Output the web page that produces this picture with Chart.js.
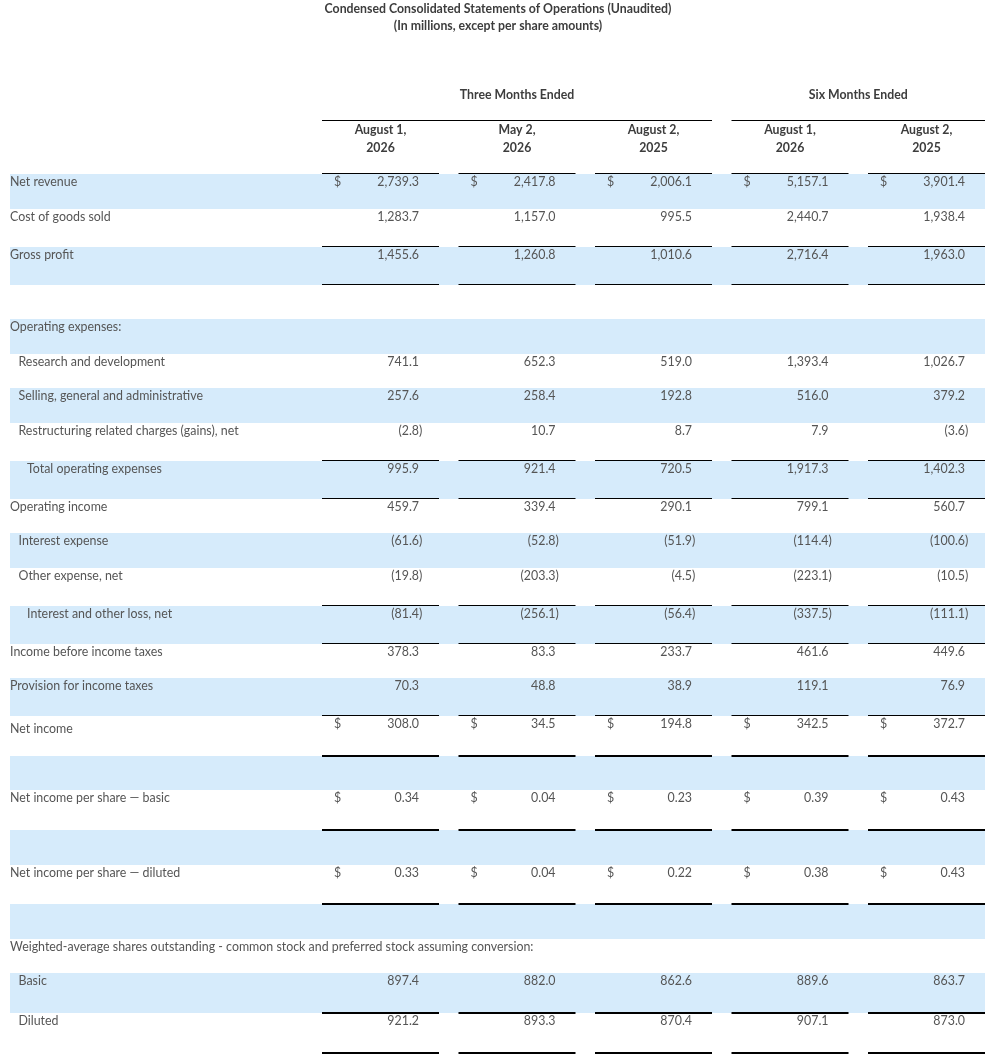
<!DOCTYPE html>
<html><head><meta charset="utf-8">
<script src="https://cdn.jsdelivr.net/npm/chart.js@4.4.0/dist/chart.umd.min.js"></script>
<style>html,body{margin:0;padding:0;background:#fff;} #wrap{width:996px;height:1060px;position:relative;}</style>
</head><body><div id="wrap"><canvas id="c"></canvas></div>
<script>
// ---------- DATA ----------
const titleLines = ["Condensed Consolidated Statements of Operations (Unaudited)", "(In millions, except per share amounts)"];
const periodGroups = ["Three Months Ended", "Six Months Ended"];
const periodSpans = [[0, 2], [3, 4]];
const headerLine1 = ["August 1,", "May 2,", "August 2,", "August 1,", "August 2,"];
const headerLine2 = ["2026", "2026", "2025", "2026", "2025"];
const rowLabels = [
  "Net revenue",
  "Cost of goods sold",
  "Gross profit",
  "",
  "Operating expenses:",
  "Research and development",
  "Selling, general and administrative",
  "Restructuring related charges (gains), net",
  "Total operating expenses",
  "Operating income",
  "Interest expense",
  "Other expense, net",
  "Interest and other loss, net",
  "Income before income taxes",
  "Provision for income taxes",
  "Net income",
  "",
  "Net income per share \u2014 basic",
  "",
  "Net income per share \u2014 diluted",
  "",
  "Weighted-average shares outstanding - common stock and preferred stock assuming conversion:",
  "Basic",
  "Diluted"
];
const threeMonthsAug1_2026 = [2739.3, 1283.7, 1455.6, null, null, 741.1, 257.6, -2.8, 995.9, 459.7, -61.6, -19.8, -81.4, 378.3, 70.3, 308.0, null, 0.34, null, 0.33, null, null, 897.4, 921.2];
const threeMonthsMay2_2026  = [2417.8, 1157.0, 1260.8, null, null, 652.3, 258.4, 10.7, 921.4, 339.4, -52.8, -203.3, -256.1, 83.3, 48.8, 34.5, null, 0.04, null, 0.04, null, null, 882.0, 893.3];
const threeMonthsAug2_2025 = [2006.1, 995.5, 1010.6, null, null, 519.0, 192.8, 8.7, 720.5, 290.1, -51.9, -4.5, -56.4, 233.7, 38.9, 194.8, null, 0.23, null, 0.22, null, null, 862.6, 870.4];
const sixMonthsAug1_2026   = [5157.1, 2440.7, 2716.4, null, null, 1393.4, 516.0, 7.9, 1917.3, 799.1, -114.4, -223.1, -337.5, 461.6, 119.1, 342.5, null, 0.39, null, 0.38, null, null, 889.6, 907.1];
const sixMonthsAug2_2025   = [3901.4, 1938.4, 1963.0, null, null, 1026.7, 379.2, -3.6, 1402.3, 560.7, -100.6, -10.5, -111.1, 449.6, 76.9, 372.7, null, 0.43, null, 0.43, null, null, 863.7, 873.0];
const columnValues = [threeMonthsAug1_2026, threeMonthsMay2_2026, threeMonthsAug2_2025, sixMonthsAug1_2026, sixMonthsAug2_2025];

// ---------- STYLE / LAYOUT ----------
const rowIndent = [0,0,0,0,0,1,1,1,2,0,1,1,2,0,0,0,0,0,0,0,0,0,1,1];
const rowRule = ['','thin','thin','','','','','thin','thin','','','thin','thin','','thin','thick','','thick','','thick','','','thick','thick'];
const dollarRows = [0, 15, 17, 19];
const perShareRows = [17, 19];
const labelMiddleRows = [15];
const BASE_H = 34.5, THIN_EXTRA = 3.5, THICK_EXTRA = 5.3;
const rowHeights = rowRule.map(r => BASE_H + (r === 'thin' ? THIN_EXTRA : r === 'thick' ? THICK_EXTRA : 0));
const rowTops = []; let acc = 0;
rowHeights.forEach(h => { rowTops.push(acc); acc += h; });
const totalH = acc;

const FONT = 'Lato, "Open Sans", sans-serif';
const BODY_SIZE = '12.4px ', HEAD_SIZE = 'bold 12.3px ';
const TXT = '#555555', HEAD = '#3d3d3d', BAND = '#d6ebfb';
const COL_HALF = 58.5, CELL_PAD_R = 20, CELL_PAD_L = 12;

function fmt(v, dec) {
  return Math.abs(v).toLocaleString('en-US', {minimumFractionDigits: dec, maximumFractionDigits: dec});
}

const datasets = columnValues.map((vals, c) => ({
  label: headerLine1[c] + ' ' + headerLine2[c],
  data: vals.map((v, i) => v == null ? null : {x: c, y: rowTops[i], v: v, r: i}).filter(Boolean),
  pointRadius: 0, pointHoverRadius: 0, showLine: false
}));

const tablePlugin = {
  id: 'table',
  beforeDatasetsDraw(chart) {
    const ctx = chart.ctx, xs = chart.scales.x, ys = chart.scales.y;
    const W = chart.width;
    const bandLeft = 10, bandRight = xs.getPixelForValue(4) + COL_HALF;
    ctx.save();
    // bands
    ctx.fillStyle = BAND;
    rowTops.forEach((t, i) => {
      if (i % 2 === 0) {
        const y0 = ys.getPixelForValue(t), y1 = ys.getPixelForValue(t + rowHeights[i]);
        ctx.fillRect(bandLeft, Math.round(y0), bandRight - bandLeft, Math.round(y1) - Math.round(y0));
      }
    });
    // header texts
    ctx.fillStyle = HEAD;
    ctx.font = HEAD_SIZE + FONT;
    ctx.textAlign = 'center';
    ctx.textBaseline = 'alphabetic';
    ctx.fillText(titleLines[0], W / 2, 12.5);
    ctx.fillText(titleLines[1], W / 2, 30);
    periodGroups.forEach((g, k) => {
      const a = periodSpans[k][0], b = periodSpans[k][1];
      const cx = (xs.getPixelForValue(a) + xs.getPixelForValue(b)) / 2;
      ctx.fillText(g, cx, 99);
    });
    headerLine1.forEach((h, c) => {
      const cx = xs.getPixelForValue(c);
      ctx.fillText(h, cx, 133.5);
      ctx.fillText(headerLine2[c], cx, 151.5);
    });
    // rules
    ctx.fillStyle = '#000';
    periodSpans.forEach(([a, b]) => {
      const l = xs.getPixelForValue(a) - COL_HALF, r = xs.getPixelForValue(b) + COL_HALF;
      ctx.fillRect(l, 120, r - l, 1);
    });
    const drawRule = (yv, thick) => {
      const y = Math.round(ys.getPixelForValue(yv));
      for (let c = 0; c < 5; c++) {
        const cx = xs.getPixelForValue(c);
        ctx.fillRect(cx - COL_HALF, y - 1, COL_HALF * 2, thick ? 2 : 1);
      }
    };
    drawRule(0, false);
    rowRule.forEach((r, i) => { if (r) drawRule(rowTops[i] + rowHeights[i], r === 'thick'); });
    // row labels
    ctx.fillStyle = TXT;
    ctx.font = BODY_SIZE + FONT;
    ctx.textAlign = 'left';
    rowLabels.forEach((lab, i) => {
      if (!lab) return;
      const off = labelMiddleRows.includes(i) ? 17 : 12;
      ctx.fillText(lab, bandLeft + rowIndent[i] * 8.5, ys.getPixelForValue(rowTops[i]) + off);
    });
    ctx.restore();
  },
  afterDatasetsDraw(chart) {
    const ctx = chart.ctx;
    ctx.save();
    ctx.fillStyle = TXT;
    ctx.font = BODY_SIZE + FONT;
    ctx.textBaseline = 'alphabetic';
    chart.data.datasets.forEach((ds, di) => {
      const meta = chart.getDatasetMeta(di);
      meta.data.forEach((el, j) => {
        const raw = ds.data[j];
        const y = el.y + 12;
        const rightX = el.x + COL_HALF - CELL_PAD_R;
        const dec = perShareRows.includes(raw.r) ? 2 : 1;
        const s = fmt(raw.v, dec);
        ctx.textAlign = 'right';
        if (raw.v < 0) {
          ctx.fillText('(' + s, rightX, y);
          ctx.textAlign = 'left';
          ctx.fillText(')', rightX, y);
        } else {
          ctx.fillText(s, rightX, y);
        }
        if (dollarRows.includes(raw.r)) {
          ctx.textAlign = 'left';
          ctx.fillText('$', el.x - COL_HALF + CELL_PAD_L, y);
        }
      });
    });
    ctx.restore();
  }
};

new Chart(document.getElementById('c'), {
  type: 'scatter',
  data: {datasets},
  options: {
    responsive: true, maintainAspectRatio: false, animation: false, events: [],
    layout: {padding: {left: 312.25, right: 1.25, top: 174, bottom: 7}},
    scales: {
      x: {type: 'linear', min: -0.5, max: 4.5, display: false},
      y: {type: 'linear', reverse: true, min: 0, max: totalH, display: false}
    },
    plugins: {legend: {display: false}, tooltip: {enabled: false}, title: {display: false}}
  },
  plugins: [tablePlugin]
});
</script>
</body></html>
